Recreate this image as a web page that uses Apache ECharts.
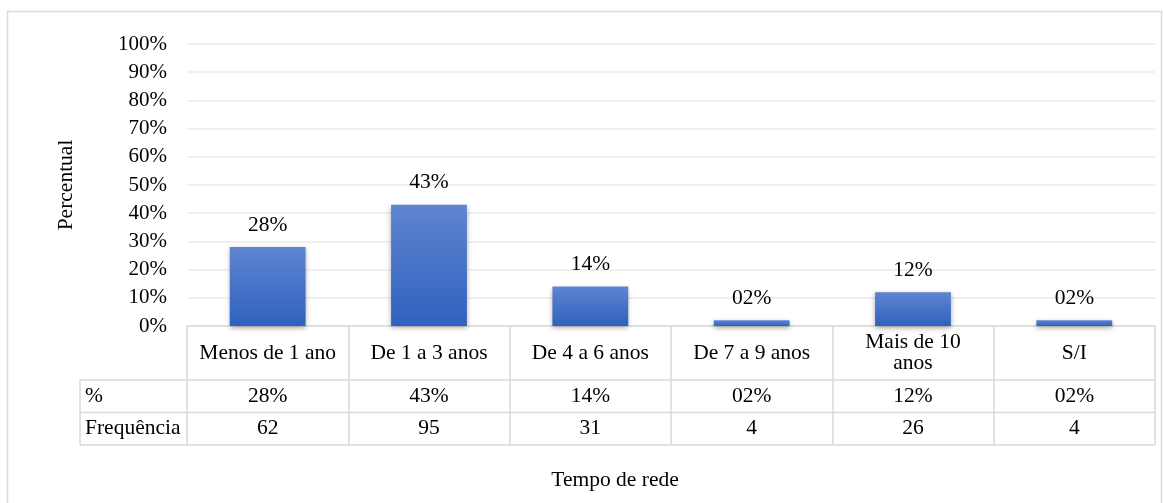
<!DOCTYPE html>
<html>
<head>
<meta charset="utf-8">
<script src="https://cdn.jsdelivr.net/npm/echarts@6/dist/echarts.min.js"></script>
<style>
  html, body { margin: 0; padding: 0; background: #ffffff; }
  #chart { width: 1163px; height: 503px; }
</style>
</head>
<body>
<div id="chart"></div>
<script>
// Tempo de rede: share (%) and count of respondents per category
const categories = ['Menos de 1 ano', 'De 1 a 3 anos', 'De 4 a 6 anos', 'De 7 a 9 anos', 'Mais de 10\nanos', 'S/I'];
const percents = [28, 43, 14, 2, 12, 2];
const frequencies = [62, 95, 31, 4, 26, 4];
const rowHeaders = ['%', 'Frequência'];

const FONT = '"Liberation Serif", "Times New Roman", serif';
const LINE = '#d9d9d9';
const FS = 21.5;       // table, labels and titles
const FS_TICK = 21;    // value axis ticks

// layout of the plot area and the data table beneath it
const W = 1163, H = 503;
const GRID = { left: 187, right: 8, top: 44, bottom: 177 };
const PLOT_BOTTOM = H - GRID.bottom;      // 326
const PLOT_RIGHT = W - GRID.right;        // 1155
const HEADER_H = 54;                      // category row
const ROW_H = 32.5;                       // value rows
const TABLE_LEFT = 80;

const fmtPct = v => String(v).padStart(2, '0') + '%';

const chart = echarts.init(document.getElementById('chart'), null, { renderer: 'canvas' });

const row1Top = PLOT_BOTTOM + HEADER_H;
const row2Top = row1Top + ROW_H;
const tableBottom = row2Top + ROW_H;

const baseAxis = {
  type: 'category',
  data: categories,
  position: 'bottom',
  gridIndex: 0,
  axisLine: { show: false },
  axisTick: { show: false },
  splitLine: { show: false }
};

const option = {
  backgroundColor: '#ffffff',
  animation: false,
  textStyle: { fontFamily: FONT, color: '#000' },
  grid: GRID,
  xAxis: [
    Object.assign({}, baseAxis, {
      axisLine: { show: true, lineStyle: { color: LINE, width: 1.5 } },
      axisTick: { show: true, interval: 0, length: tableBottom - PLOT_BOTTOM, lineStyle: { color: LINE, width: 1.5 } },
      axisLabel: {
        interval: 0, margin: HEADER_H / 2, verticalAlign: 'middle',
        fontFamily: FONT, fontSize: FS, lineHeight: 21, color: '#000', align: 'center'
      },
      name: 'Tempo de rede',
      nameLocation: 'middle',
      nameGap: 143,
      // title sits centred under the whole table, not just the plot
      nameTextStyle: { fontFamily: FONT, fontSize: FS, color: '#000', padding: [0, 112, 0, 0] }
    }),
    Object.assign({}, baseAxis, {
      axisLabel: {
        interval: 0, margin: HEADER_H + ROW_H / 2, verticalAlign: 'middle',
        fontFamily: FONT, fontSize: FS, color: '#000',
        formatter: (v, i) => fmtPct(percents[i])
      }
    }),
    Object.assign({}, baseAxis, {
      axisLabel: {
        interval: 0, margin: HEADER_H + ROW_H * 1.5, verticalAlign: 'middle',
        fontFamily: FONT, fontSize: FS, color: '#000',
        formatter: (v, i) => String(frequencies[i])
      }
    })
  ],
  yAxis: {
    type: 'value',
    min: 0, max: 100, interval: 10,
    axisLine: { show: false },
    axisTick: { show: false },
    splitLine: { lineStyle: { color: '#ebebeb', width: 1.5 } },
    axisLabel: { formatter: '{value}%', fontFamily: FONT, fontSize: FS_TICK, color: '#000', margin: 20 },
    name: 'Percentual',
    nameLocation: 'middle',
    nameGap: 110,
    nameRotate: 90,
    nameTextStyle: { fontFamily: FONT, fontSize: FS, color: '#000' }
  },
  series: [{
    type: 'bar',
    xAxisIndex: 0,
    data: percents,
    barWidth: '47%',
    itemStyle: {
      color: new echarts.graphic.LinearGradient(0, 0, 0, 1, [
        { offset: 0, color: '#5f84d0' },
        { offset: 1, color: '#2f62be' }
      ]),
      shadowColor: 'rgba(0,0,0,0.35)',
      shadowBlur: 5,
      shadowOffsetY: 2
    },
    label: {
      show: true, position: 'top', distance: 11,
      fontFamily: FONT, fontSize: FS, color: '#000',
      formatter: p => fmtPct(p.value)
    }
  }],
  graphic: [
    // outer chart frame
    { type: 'rect', silent: true, shape: { x: 7.5, y: 11.5, width: 1154, height: 520 },
      style: { fill: 'none', stroke: LINE, lineWidth: 1.5 } },
    // table rows that extend into the header column
    ...[row1Top, row2Top, tableBottom].map(y => ({
      type: 'line', silent: true,
      shape: { x1: TABLE_LEFT, y1: y, x2: PLOT_RIGHT, y2: y },
      style: { stroke: LINE, lineWidth: 1.5 }
    })),
    { type: 'line', silent: true,
      shape: { x1: TABLE_LEFT, y1: row1Top, x2: TABLE_LEFT, y2: tableBottom },
      style: { stroke: LINE, lineWidth: 1.5 } },
    ...rowHeaders.map((t, i) => ({
      type: 'text', silent: true,
      x: TABLE_LEFT + 5, y: row1Top + ROW_H * (i + 0.5),
      style: { text: t, font: FS + 'px ' + FONT, fill: '#000', verticalAlign: 'middle', align: 'left' }
    }))
  ]
};

chart.setOption(option);
</script>
</body>
</html>
